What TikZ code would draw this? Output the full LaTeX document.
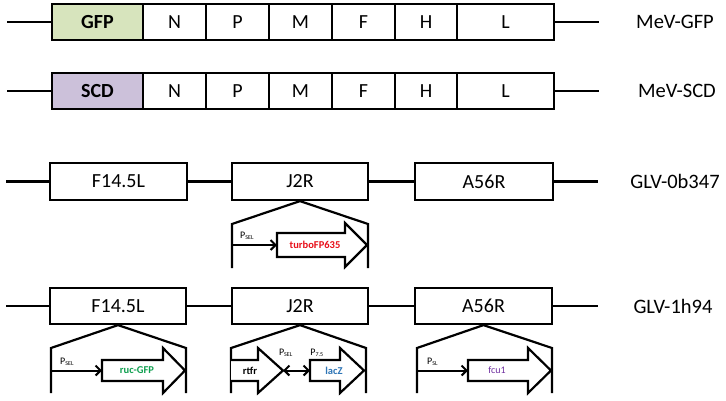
\documentclass[tikz,border=0pt]{standalone}
\usepackage{fontspec}
\setmainfont{Carlito}
\usetikzlibrary{arrows.meta}
\definecolor{gfpfill}{HTML}{D7E4BD}
\definecolor{scdfill}{HTML}{CCC1DA}
\definecolor{tred}{HTML}{E8101A}
\definecolor{tgreen}{HTML}{10A050}
\definecolor{tblue}{HTML}{2E75B6}
\definecolor{tpurple}{HTML}{7030A0}
\tikzset{
  gene/.style={draw, line width=2.2pt, fill=white, inner sep=0pt, minimum height=36pt, font=\fontsize{20}{22}\selectfont},
  bb/.style={line width=2.2pt},
  blk/.style={draw, line width=2.2pt, fill=white, line join=miter},
  lbl/.style={font=\fontsize{20.5}{22}\selectfont, inner sep=0pt},
  small/.style={font=\fontsize{10.5}{12}\selectfont\bfseries, inner sep=0pt},
  prom/.style={font=\fontsize{10}{11}\selectfont, inner sep=0pt},
  tarr/.style={line width=2pt, -{Straight Barb[length=5pt,width=10pt,line width=2pt]}},
  darr/.style={line width=2pt, {Straight Barb[length=5pt,width=10pt,line width=2pt]}-{Straight Barb[length=5pt,width=10pt,line width=2pt]}}
}
\newcommand{\psub}[1]{P\textsubscript{\fontsize{6}{6}\selectfont #1}}
\begin{document}
\begin{tikzpicture}[x=1pt,y=-1pt]
\useasboundingbox (0,0) rectangle (726,400);
% ---------- Row 1: MeV-GFP ----------
\node[gene, fill=gfpfill, minimum width=91pt, font=\fontsize{20}{22}\selectfont\bfseries] (g1) at (97.5,22) {GFP};
\node[gene, minimum width=63pt] (n1) at (174.5,22) {N};
\node[gene, minimum width=63pt] (p1) at (237.5,22) {P};
\node[gene, minimum width=63pt] (m1) at (300.5,22) {M};
\node[gene, minimum width=63pt] (f1) at (363.5,22) {F};
\node[gene, minimum width=62pt] (h1) at (426,22) {H};
\node[gene, minimum width=97pt] (l1) at (505.5,22) {L};
\coordinate (s1) at (7,22);
\coordinate (e1) at (599,22);
\draw[bb] (s1) -- (g1.west);
\draw[bb] (l1.east) -- (e1);
\node[lbl] (t1) at (675,22) {MeV-GFP};
% ---------- Row 2: MeV-SCD ----------
\node[gene, fill=scdfill, minimum width=91pt, font=\fontsize{20}{22}\selectfont\bfseries] (g2) at (97.5,91) {SCD};
\node[gene, minimum width=63pt] (n2) at (174.5,91) {N};
\node[gene, minimum width=63pt] (p2) at (237.5,91) {P};
\node[gene, minimum width=63pt] (m2) at (300.5,91) {M};
\node[gene, minimum width=63pt] (f2) at (363.5,91) {F};
\node[gene, minimum width=62pt] (h2) at (426,91) {H};
\node[gene, minimum width=97pt] (l2) at (505.5,91) {L};
\coordinate (s2) at (7,91);
\coordinate (e2) at (599,91);
\draw[bb] (s2) -- (g2.west);
\draw[bb] (l2.east) -- (e2);
\node[lbl] (t2) at (677,91) {MeV-SCD};
% ---------- Row 3: GLV-0b347 ----------
\coordinate (s3) at (6,181.5);
\coordinate (e3) at (598,181.5);
\node[gene, minimum width=137pt, minimum height=37pt] (a3) at (118.5,181.5) {F14.5L};
\node[gene, minimum width=136pt, minimum height=37pt] (b3) at (300,181.5) {J2R};
\node[gene, minimum width=138pt, minimum height=37pt] (c3) at (484,181.5) {A56R};
\draw[bb] (s3) -- (a3.west);
\draw[bb] (a3.east) -- (b3.west);
\draw[bb] (b3.east) -- (c3.west);
\draw[bb] (c3.east) -- (e3);
\node[lbl] (t3) at (675,181.5) {GLV-0b347};
% insertion in J2R
\coordinate (i3lt) at (232,224);
\coordinate (i3lb) at (232,268);
\coordinate (i3rt) at (368,224);
\coordinate (i3rb) at (368,268);
\draw[bb, line join=miter] (i3lb) -- (i3lt) -- (b3.south) -- (i3rt) -- (i3rb);
\draw[blk] (277,233) -- (345,233) -- (345,223) -- (367,245) -- (345,267) -- (345,257) -- (277,257) -- cycle;
\node[small, text=tred] (turbo) at (315,245) {turboFP635};
\coordinate (p3) at (232,245);
\coordinate (p3e) at (277,245);
\draw[tarr] (p3) -- (p3e);
\node[prom, anchor=west] (ps3) at (240,236) {\psub{SEL}};
% ---------- Row 4: GLV-1h94 ----------
\coordinate (s4) at (6,306);
\coordinate (e4) at (598,306);
\node[gene, minimum width=136pt] (a4) at (118,306) {F14.5L};
\node[gene, minimum width=136pt] (b4) at (300,306) {J2R};
\node[gene, minimum width=137pt] (c4) at (483.5,306) {A56R};
\draw[bb] (s4) -- (a4.west);
\draw[bb] (a4.east) -- (b4.west);
\draw[bb] (b4.east) -- (c4.west);
\draw[bb] (c4.east) -- (e4);
\node[lbl] (t4) at (673,306) {GLV-1h94};
% insertion in F14.5L
\draw[bb, line join=miter] (51,393) coordinate (i4alb) -- (51,348) coordinate (i4alt) -- (a4.south) -- (186,348) coordinate (i4art) -- (186,393) coordinate (i4arb);
\draw[blk] (102,360) -- (163,360) -- (163,348) -- (185,370.5) -- (163,393) -- (163,381) -- (102,381) -- cycle;
\node[small, text=tgreen] (ruc) at (137,370.5) {ruc-GFP};
\coordinate (q4a) at (51,370.5);
\coordinate (r4a) at (102,370.5);
\draw[tarr] (q4a) -- (r4a);
\node[prom, anchor=west] (ps4a) at (60,362) {\psub{SEL}};
% insertion in J2R
\draw[bb, line join=miter] (231,393) coordinate (i4blb) -- (231,348) coordinate (i4blt) -- (b4.south) -- (366,348) coordinate (i4brt) -- (366,393) coordinate (i4brb);
\draw[blk] (231,360) -- (258,360) -- (258,348) -- (283,370.5) -- (258,393) -- (258,381) -- (231,381);
\node[small, text=black] (rtfr) at (250,370.5) {rtfr};
\draw[blk] (310,360) -- (340,360) -- (340,348) -- (364,370.5) -- (340,393) -- (340,381) -- (310,381) -- cycle;
\node[small, text=tblue] (lacz) at (334,370.5) {lacZ};
\coordinate (d4l) at (283,370.5);
\coordinate (d4r) at (310,370.5);
\draw[darr] (d4l) -- (d4r);
\node[prom] (ps4b) at (286,353) {\psub{SEL}};
\node[prom] (p75) at (317,353) {\psub{7.5}};
% insertion in A56R
\draw[bb, line join=miter] (417,393) coordinate (i4clb) -- (417,348) coordinate (i4clt) -- (c4.south) -- (552,348) coordinate (i4crt) -- (552,393) coordinate (i4crb);
\draw[blk] (468,360) -- (528,360) -- (528,348) -- (551,370.5) -- (528,393) -- (528,381) -- (468,381) -- cycle;
\node[small, text=tpurple, font=\fontsize{10}{11}\selectfont] (fcu) at (497,370.5) {fcu1};
\coordinate (q4c) at (417,370.5);
\coordinate (r4c) at (468,370.5);
\draw[tarr] (q4c) -- (r4c);
\node[prom, anchor=west] (ps4c) at (427,362) {\psub{SL}};
\end{tikzpicture}
\end{document}
